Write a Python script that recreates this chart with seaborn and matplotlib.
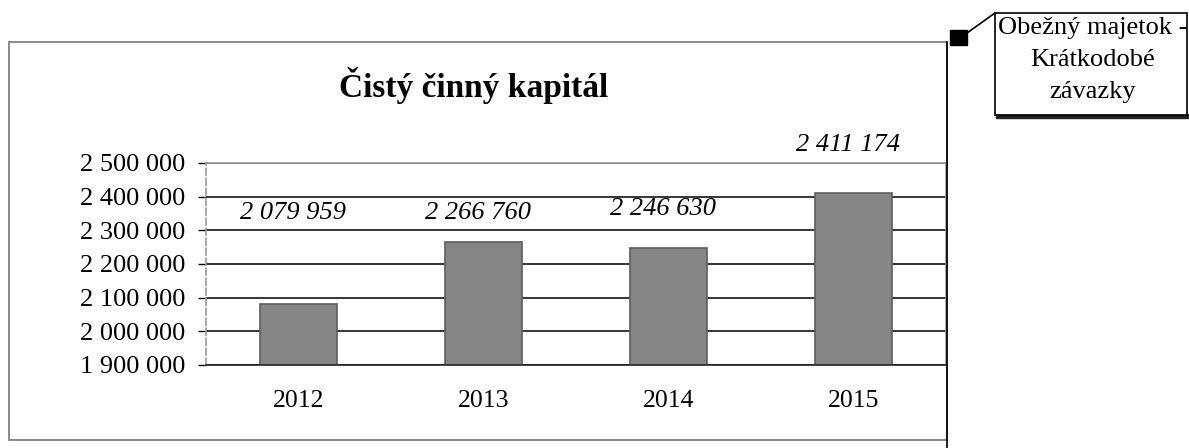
"""Čistý činný kapitál – stĺpcový graf podľa rokov."""

import matplotlib

matplotlib.use("Agg")

import matplotlib.pyplot as plt
import pandas as pd
import seaborn as sns
from matplotlib.lines import Line2D
from matplotlib.patches import Rectangle
from matplotlib.ticker import FuncFormatter

years = ["2012", "2013", "2014", "2015"]
capital = [2079959, 2266760, 2246630, 2411174]
label_height = [2351000, 2352000, 2363000, 2552000]
y_ticks = [1900000, 2000000, 2100000, 2200000, 2300000, 2400000, 2500000]
legend_lines = ["Obežný majetok -", "Krátkodobé", "závazky"]

sns.set_style("white")
plt.rcParams["font.family"] = ["Liberation Serif", "DejaVu Serif"]
plt.rcParams["text.color"] = "black"
plt.rcParams["xtick.color"] = "black"
plt.rcParams["ytick.color"] = "black"

data = pd.DataFrame({"rok": years, "hodnota": capital})


def space_thousands(value, _pos=None):
    return f"{value:,.0f}".replace(",", " ")


fig = plt.figure(figsize=(11.89, 4.48), dpi=100)
axis = fig.add_axes((0.1733, 0.1853, 0.6224, 0.4509))

sns.barplot(
    data=data,
    x="rok",
    y="hodnota",
    color="#858585",
    edgecolor="#5e5e5e",
    linewidth=1.2,
    width=0.42,
    saturation=1,
    ax=axis,
)

axis.set_xlim(-0.5, len(years) - 0.5)
axis.set_ylim(y_ticks[0], y_ticks[-1])
axis.set_yticks(y_ticks)
axis.yaxis.set_major_formatter(FuncFormatter(space_thousands))
axis.set_xlabel("")
axis.set_ylabel("")
axis.set_axisbelow(True)
axis.grid(axis="y", color="black", linewidth=1.1)
axis.grid(axis="x", visible=False)

axis.set_xticks([i - 0.5 for i in range(len(years) + 1)], minor=True)
axis.tick_params(axis="x", which="major", length=0, labelsize=18.5, pad=18)
axis.tick_params(axis="x", which="minor", length=6, width=1, color="black", direction="out")
axis.tick_params(axis="y", length=6, width=1, color="black", direction="out",
                 labelsize=19, pad=9, left=True)

for side, color in {"left": "#9a9a9a", "top": "#9a9a9a", "right": "#9a9a9a", "bottom": "#222222"}.items():
    axis.spines[side].set_visible(True)
    axis.spines[side].set_color(color)
    axis.spines[side].set_linewidth(1.2)
axis.spines["left"].set_linestyle((0, (4, 2)))

for i, (value, height) in enumerate(zip(capital, label_height)):
    axis.text(i - 0.03, height, space_thousands(value), ha="center", va="center",
              fontsize=19, style="italic", clip_on=False)

# vonkajší rámik grafu
fig.add_artist(Rectangle((9 / 1189, 8 / 448), 938 / 1189, 398 / 448,
                         transform=fig.transFigure, fill=False,
                         edgecolor="#8a8a8a", linewidth=1.4))
fig.add_artist(Line2D([947 / 1189, 947 / 1189], [0, 406 / 448],
                      transform=fig.transFigure, color="black", linewidth=1.2))

fig.text(474 / 1189, 1 - 85 / 448, "Čistý činný kapitál", ha="center",
         va="center", fontsize=24, fontweight="bold")

# legenda s popisom
fig.add_artist(Rectangle((996 / 1189, 1 - 118 / 448), 192 / 1189, 4 / 448,
                         transform=fig.transFigure, color="#222222"))
fig.add_artist(Rectangle((995 / 1189, 1 - 115 / 448), 192 / 1189, 102 / 448,
                         transform=fig.transFigure, facecolor="white",
                         edgecolor="black", linewidth=1.2))
fig.add_artist(Rectangle((950 / 1189, 1 - 45 / 448), 17 / 1189, 15 / 448,
                         transform=fig.transFigure, color="black"))
fig.add_artist(Line2D([967 / 1189, 995 / 1189], [1 - 33 / 448, 1 - 13 / 448],
                      transform=fig.transFigure, color="black", linewidth=1.2))
fig.text(1093 / 1189, 1 - 60 / 448, "\n".join(legend_lines), ha="center",
         va="center", fontsize=19, linespacing=1.6)

fig.savefig("out.png", dpi=100)
plt.close(fig)
